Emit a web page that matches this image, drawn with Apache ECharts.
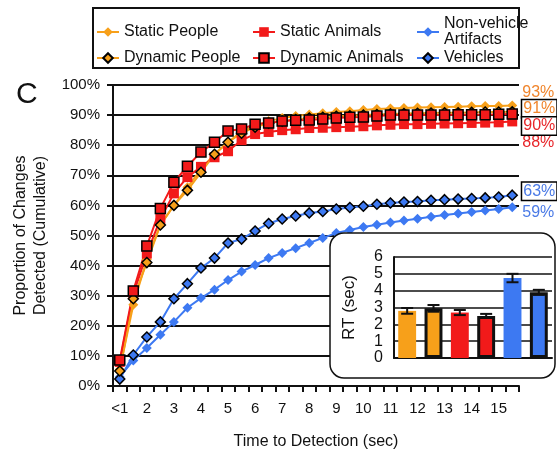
<!DOCTYPE html>
<html>
<head>
<meta charset="utf-8">
<script src="https://cdn.jsdelivr.net/npm/echarts@6/dist/echarts.min.js"></script>
<style>
  html, body { margin: 0; padding: 0; background: #fff; }
  #container { width: 557px; height: 451px; }
</style>
</head>
<body>
<div id="container"></div>
<script>
// time bins, half a second apart
const timeCats = ['<1', '1.5', '2', '2.5', '3', '3.5', '4', '4.5', '5', '5.5', '6', '6.5', '7', '7.5', '8',
  '8.5', '9', '9.5', '10', '10.5', '11', '11.5', '12', '12.5', '13', '13.5', '14', '14.5', '15', '15.5'];

const staticPeople = [5.5, 27, 42, 53.5, 60, 66, 72, 77, 81, 84.5, 86.5, 88, 89, 89.7, 90.2, 90.6, 91, 91.3,
  91.7, 92, 92.2, 92.4, 92.5, 92.6, 92.7, 92.8, 92.9, 93, 93, 93.2];
const dynamicPeople = [5, 29, 41, 53.5, 60, 65, 71, 77, 81, 84, 86, 87.3, 88, 88.5, 89, 89.3, 89.6, 89.8,
  90, 90.2, 90.4, 90.5, 90.6, 90.7, 90.8, 90.8, 90.9, 91, 91, 91.1];
const staticAnimals = [8, 30.5, 44, 55.5, 64, 69.4, 72.8, 76, 78, 81.7, 83.7, 84.4, 85, 85.3, 85.7, 85.8,
  86, 86.1, 86.3, 86.6, 86.8, 87, 87, 87.1, 87.2, 87.3, 87.4, 87.5, 87.6, 87.9];
const dynamicAnimals = [8.6, 31.6, 46.5, 59, 67.7, 73, 77.7, 81, 84.7, 85.4, 87, 87.4, 88, 88.3, 88.4, 88.7,
  89, 89.3, 89.4, 89.7, 90, 90, 90, 90, 90, 90.1, 90.1, 90.1, 90.3, 90.4];
const nonVehicle = [3, 8.5, 12.6, 17, 21.3, 26, 29.2, 32, 35.2, 38, 40.2, 42.5, 44.2, 45.8, 47.5, 49.2,
  50.8, 51.8, 52.8, 53.6, 54.3, 55, 55.6, 56.2, 56.8, 57.3, 57.8, 58.3, 58.8, 59.4];
const vehicles = [2.3, 10.3, 16.3, 21.3, 29, 34, 39.2, 42.5, 47.5, 48.8, 51.5, 54, 55.5, 56.5, 57.5, 58,
  58.8, 59.3, 59.7, 60.4, 60.8, 61.1, 61.3, 61.7, 61.9, 62.1, 62.3, 62.5, 62.8, 63.4];

// final percentages printed on the right
const finalLabels = {
  'Static People': '93%',
  'Dynamic People': '91%',
  'Dynamic Animals': '90%',
  'Static Animals': '88%',
  'Vehicles': '63%',
  'Non-vehicle\nArtifacts': '59%',
};

// inset: mean RT per condition
const rtCats = ['Static People', 'Dynamic People', 'Static Animals', 'Dynamic Animals', 'Non-vehicle Artifacts', 'Vehicles'];
const rtMeans = [2.8, 2.95, 2.7, 2.5, 4.75, 3.9];
const rtErrors = [0.17, 0.2, 0.15, 0.12, 0.25, 0.15];

const ORANGE = '#f7a01a';
const RED = '#f21a1a';
const BLUE = '#3d79f2';
const FONT = 'Liberation Sans, Arial, sans-serif';

let chart = echarts.init(document.getElementById('container'));

function lineSeries(name, data, color, symbol, bordered, labelColor, dy, boxed) {
  return {
    name: name,
    type: 'line',
    xAxisIndex: 0,
    yAxisIndex: 0,
    data: data,
    symbol: symbol,
    symbolSize: 10,
    showAllSymbol: true,
    lineStyle: { color: color, width: 2 },
    itemStyle: {
      color: color,
      borderColor: bordered ? '#000' : color,
      borderWidth: bordered ? 1.5 : 0,
    },
    endLabel: {
      show: true,
      formatter: () => finalLabels[name],
      color: labelColor,
      fontSize: 16,
      fontFamily: FONT,
      offset: [6, dy],
      distance: 4,
      backgroundColor: boxed ? '#fff' : 'transparent',
      borderColor: boxed ? '#000' : 'transparent',
      borderWidth: boxed ? 1.5 : 0,
      padding: boxed ? [1, 1, 0, 1] : 0,
    },
    z: 3,
  };
}

const legendText = { fontSize: 16, fontFamily: FONT, color: '#111', lineHeight: 16 };

let option = {
  animation: false,
  textStyle: { fontFamily: FONT },
  title: {
    text: 'C',
    left: 11,
    top: 75,
    textStyle: { fontSize: 30, fontWeight: 'normal', color: '#111', fontFamily: FONT },
  },
  legend: [
    {
      data: ['Static People', 'Dynamic People'],
      orient: 'vertical',
      left: 96,
      top: 24,
      itemGap: 10,
      itemWidth: 22,
      itemHeight: 12,
      textStyle: legendText,
      padding: 0,
    },
    {
      data: ['Static Animals', 'Dynamic Animals'],
      orient: 'vertical',
      left: 252,
      top: 24,
      itemGap: 10,
      itemWidth: 22,
      itemHeight: 12,
      textStyle: legendText,
      padding: 0,
    },
    {
      data: ['Non-vehicle\nArtifacts', 'Vehicles'],
      orient: 'vertical',
      left: 416,
      top: 16,
      itemGap: 2,
      itemWidth: 22,
      itemHeight: 12,
      textStyle: legendText,
      padding: 0,
    },
  ],
  graphic: [
    {
      type: 'rect',
      shape: { x: 93, y: 8, width: 426, height: 60 },
      style: { fill: 'none', stroke: '#111', lineWidth: 2 },
      z: 1,
    },
    {
      type: 'rect',
      shape: { x: 330, y: 233, width: 225, height: 145, r: 14 },
      style: { fill: '#fff', stroke: '#111', lineWidth: 1.5 },
      z: 50,
    },
  ],
  grid: [
    { left: 113, right: 38, top: 85, bottom: 65, outerBoundsMode: 'none' },
    { left: 394, right: 5, top: 257, bottom: 93, outerBoundsMode: 'none' },
  ],
  xAxis: [
    {
      type: 'category',
      gridIndex: 0,
      data: timeCats,
      boundaryGap: true,
      name: 'Time to Detection (sec)',
      nameLocation: 'middle',
      nameGap: 48,
      nameTextStyle: { fontSize: 16, color: '#111' },
      axisLine: { lineStyle: { color: '#111', width: 2 } },
      axisTick: { show: true, interval: 0, length: 6, lineStyle: { color: '#111', width: 2 } },
      axisLabel: { interval: 1, fontSize: 15, color: '#111', margin: 15 },
      splitLine: { show: false },
    },
    {
      type: 'category',
      gridIndex: 1,
      data: rtCats,
      z: 60,
      axisLine: { lineStyle: { color: '#111', width: 2 } },
      axisTick: { show: false },
      axisLabel: { show: false },
    },
  ],
  yAxis: [
    {
      type: 'value',
      gridIndex: 0,
      min: 0,
      max: 100,
      interval: 10,
      name: 'Proportion of Changes\nDetected (Cumulative)',
      nameLocation: 'middle',
      nameRotate: 90,
      nameGap: 58,
      nameTextStyle: { fontSize: 16, color: '#111', lineHeight: 20 },
      axisLine: { show: true, lineStyle: { color: '#111', width: 2 } },
      axisTick: { show: true, length: 6, lineStyle: { color: '#111', width: 2 } },
      axisLabel: { formatter: '{value}%', fontSize: 15, color: '#111', margin: 13 },
      splitLine: { show: true, lineStyle: { color: '#111', width: 2 } },
    },
    {
      type: 'value',
      gridIndex: 1,
      min: 0,
      max: 6,
      interval: 1,
      z: 60,
      name: 'RT (sec)',
      nameLocation: 'middle',
      nameRotate: 90,
      nameGap: 36,
      nameTextStyle: { fontSize: 17, color: '#111' },
      axisLine: { show: true, lineStyle: { color: '#111', width: 2 } },
      axisTick: { show: false },
      axisLabel: {
        fontSize: 16,
        lineHeight: 14,
        color: '#111',
        margin: 11,
        showMinLabel: true,
        showMaxLabel: true,
        hideOverlap: false,
      },
      splitLine: { show: true, lineStyle: { color: '#111', width: 1.5 } },
    },
  ],
  series: [
    lineSeries('Non-vehicle\nArtifacts', nonVehicle, BLUE, 'diamond', false, '#4a7ae6', 5, false),
    lineSeries('Vehicles', vehicles, BLUE, 'diamond', true, '#4a7ae6', -4, true),
    lineSeries('Static People', staticPeople, ORANGE, 'diamond', false, '#f0852c', -13, false),
    lineSeries('Static Animals', staticAnimals, RED, 'rect', false, '#e8262a', 21, false),
    lineSeries('Dynamic People', dynamicPeople, ORANGE, 'diamond', true, '#f0852c', -3, true),
    lineSeries('Dynamic Animals', dynamicAnimals, RED, 'rect', true, '#e8262a', 12, true),
    {
      name: 'RT',
      type: 'bar',
      xAxisIndex: 1,
      yAxisIndex: 1,
      barWidth: '68%',
      z: 61,
      data: rtMeans.map((v, i) => ({
        value: v,
        itemStyle: {
          color: [ORANGE, ORANGE, RED, RED, BLUE, BLUE][i],
          borderColor: i % 2 === 1 ? '#111' : 'transparent',
          borderWidth: i % 2 === 1 ? 3 : 0,
        },
      })),
    },
    {
      name: 'RT error',
      type: 'custom',
      xAxisIndex: 1,
      yAxisIndex: 1,
      z: 62,
      data: rtMeans.map((v, i) => [i, v - rtErrors[i], v + rtErrors[i]]),
      renderItem: function (params, api) {
        const lo = api.coord([api.value(0), api.value(1)]);
        const hi = api.coord([api.value(0), api.value(2)]);
        const half = 6;
        const style = { stroke: '#111', lineWidth: 2 };
        return {
          type: 'group',
          children: [
            { type: 'line', shape: { x1: lo[0], y1: lo[1], x2: hi[0], y2: hi[1] }, style: style },
            { type: 'line', shape: { x1: lo[0] - half, y1: lo[1], x2: lo[0] + half, y2: lo[1] }, style: style },
            { type: 'line', shape: { x1: hi[0] - half, y1: hi[1], x2: hi[0] + half, y2: hi[1] }, style: style },
          ],
        };
      },
    },
  ],
};

chart.setOption(option);
</script>
</body>
</html>
